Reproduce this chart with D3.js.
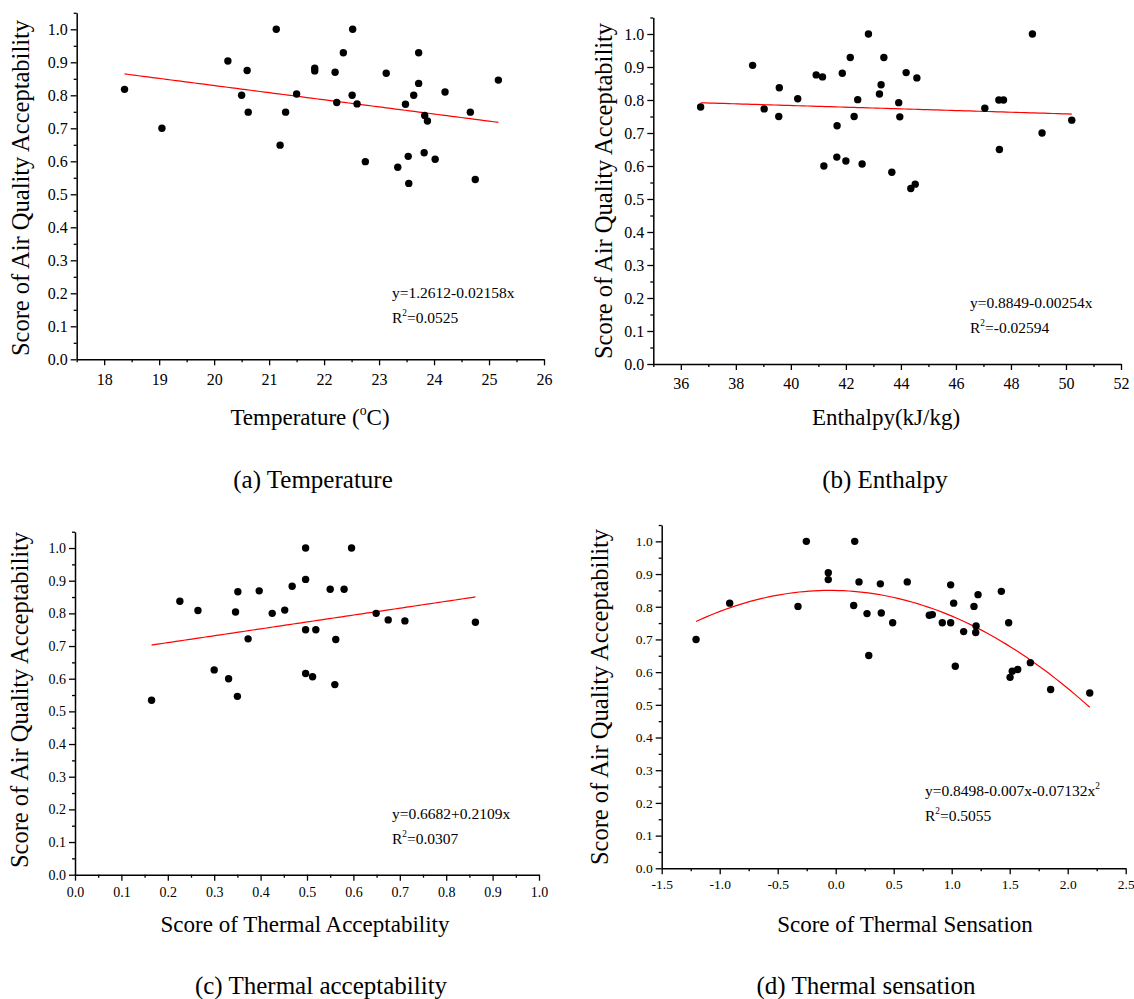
<!DOCTYPE html>
<html><head><meta charset="utf-8">
<script src="https://cdn.jsdelivr.net/npm/d3@7"></script>
<style>
body{margin:0;background:#fff}
svg{display:block}
text{font-family:"Liberation Serif","Times New Roman",serif;fill:#000}
</style>
</head><body>
<svg id="chart" width="1134" height="999"></svg>
<script>
// ---------- data ----------
const tempX = [18.37,19.05,20.25,20.6,21.13,20.5,20.62,21.3,21.2,21.5,22.52,22.35,23.72,21.83,21.83,22.2,23.13,25.17,23.72,24.2,22.51,23.63,22.23,22.6,23.48,23.83,23.88,24.66,22.75,23.34,23.53,23.82,24.02,23.54,24.75];
const tempY = [0.818,0.70,0.904,0.875,1.0,0.80,0.749,0.749,0.649,0.804,1.0,0.929,0.929,0.882,0.874,0.870,0.867,0.846,0.836,0.81,0.80,0.80,0.778,0.774,0.773,0.739,0.722,0.749,0.599,0.582,0.615,0.626,0.606,0.533,0.545];

const enthX = [36.72,38.61,39.03,39.58,39.56,40.25,40.92,41.15,41.2,41.68,41.67,42.0,41.87,42.16,42.3,42.43,42.59,42.82,43.38,44.19,44.58,43.28,43.22,43.92,43.96,43.67,44.36,44.52,47.05,47.56,47.73,47.58,48.78,49.13,50.21];
const enthY = [0.779,0.905,0.773,0.837,0.75,0.804,0.876,0.870,0.60,0.722,0.627,0.615,0.881,0.929,0.75,0.801,0.606,1.0,0.929,0.883,0.867,0.846,0.818,0.792,0.749,0.581,0.532,0.545,0.775,0.80,0.80,0.65,1.0,0.70,0.739];

const taX = [0.165,0.226,0.265,0.300,0.331,0.350,0.351,0.346,0.373,0.397,0.425,0.452,0.468,0.497,0.497,0.497,0.497,0.596,0.550,0.580,0.519,0.562,0.512,0.560,0.649,0.675,0.711,0.863];
const taY = [0.534,0.837,0.809,0.627,0.60,0.546,0.866,0.804,0.722,0.869,0.80,0.81,0.883,1.0,0.904,0.75,0.616,1.0,0.874,0.874,0.75,0.720,0.606,0.582,0.80,0.78,0.777,0.773];

const tsX = [-1.204,-0.914,-0.325,-0.253,-0.064,-0.064,0.164,0.155,0.201,0.27,0.285,0.385,0.617,0.393,0.491,0.807,0.833,0.919,0.991,0.991,1.017,1.031,1.103,1.192,1.227,1.21,1.207,1.428,1.491,1.678,1.522,1.569,1.503,1.853,2.19];
const tsY = [0.70,0.811,0.801,1.0,0.904,0.883,1.0,0.804,0.876,0.779,0.651,0.870,0.876,0.781,0.751,0.774,0.776,0.751,0.751,0.867,0.811,0.618,0.724,0.801,0.837,0.741,0.721,0.847,0.751,0.629,0.603,0.608,0.584,0.547,0.536];

// fit coefficients (as printed on the chart)
const tempFit = [1.2612, -0.02158];
const enthFit = [0.8849, -0.00254];
const taFit = [0.6682, 0.2109];
const tsFit = [0.8498, -0.007, -0.07132];

// tick labels
const yTicks = [0.0,0.1,0.2,0.3,0.4,0.5,0.6,0.7,0.8,0.9,1.0];
const tempTicks = [18,19,20,21,22,23,24,25,26];
const enthTicks = [36,38,40,42,44,46,48,50,52];
const taTicks = [0.0,0.1,0.2,0.3,0.4,0.5,0.6,0.7,0.8,0.9,1.0];
const tsTicks = [-1.5,-1.0,-0.5,0.0,0.5,1.0,1.5,2.0,2.5];

const yLabel = "Score of Air Quality Acceptability";

// ---------- drawing ----------
const svg = d3.select("#chart");
const FONT = "'Liberation Serif', 'Times New Roman', serif";

function addSupText(g, x, y, parts, size, anchor){
  const t = g.append("text").attr("x", x).attr("y", y).attr("font-size", size)
    .attr("text-anchor", anchor || "start").style("font-family", FONT);
  const shift = size * 0.42;
  let pending = 0;
  parts.forEach(p => {
    if (p.sup) {
      t.append("tspan").attr("dy", -shift).attr("font-size", size * 0.6).text(p.sup);
      pending = shift;
    } else {
      t.append("tspan").attr("dy", pending).text(p.t);
      pending = 0;
    }
  });
  return t;
}

const fmt1 = v => v.toFixed(1);
const fmt0 = v => String(v);

function drawPanel(c){
  const g = svg.append("g");
  const x = d3.scaleLinear().domain(c.xDomain).range([c.left, c.right]);
  const y = d3.scaleLinear().domain([0, 1.05]).range([c.bottom, c.top]);

  // minor ticks
  const gxm = g.append("g").attr("transform", `translate(0,${c.bottom})`)
    .call(d3.axisBottom(x).tickValues(c.xMinor).tickSize(3).tickFormat("").tickSizeOuter(0));
  gxm.select(".domain").remove();
  const gym = g.append("g").attr("transform", `translate(${c.left},0)`)
    .call(d3.axisLeft(y).tickValues(d3.range(0.05, 1.06, 0.1)).tickSize(3).tickFormat("").tickSizeOuter(0));
  gym.select(".domain").remove();

  // major axes
  const gx = g.append("g").attr("transform", `translate(0,${c.bottom})`)
    .call(d3.axisBottom(x).tickValues(c.xTicks).tickSize(6).tickSizeOuter(0).tickPadding(c.xPad)
      .tickFormat(c.xFormat));
  const gy = g.append("g").attr("transform", `translate(${c.left},0)`)
    .call(d3.axisLeft(y).tickValues(yTicks).tickSize(6).tickSizeOuter(0).tickPadding(3)
      .tickFormat(fmt1));
  [gx, gy, gxm, gym].forEach(a => {
    a.attr("font-family", null).attr("font-size", null);
    a.selectAll("line").attr("stroke", "#000").attr("stroke-width", 1.3);
    a.selectAll(".domain").attr("stroke", "#000").attr("stroke-width", 1.5);
    a.selectAll("text").style("font-family", FONT)
      .attr("font-size", c.tickSize).attr("fill", "#000");
  });

  // fit line
  const xs = c.xs, ys = c.ys;
  const xmin = d3.min(xs), xmax = d3.max(xs);
  const f = v => c.fit.reduce((s, k, i) => s + k * Math.pow(v, i), 0);
  const samples = d3.range(0, 81).map(i => xmin + (xmax - xmin) * i / 80);
  g.append("path").datum(samples)
    .attr("fill", "none").attr("stroke", "#ff0000").attr("stroke-width", 1.2)
    .attr("d", d3.line().x(v => x(v)).y(v => y(f(v))));

  // points
  g.selectAll("circle.pt").data(xs.map((v, i) => [v, ys[i]])).join("circle")
    .attr("class", "pt").attr("cx", d => x(d[0])).attr("cy", d => y(d[1]))
    .attr("r", 3.7).attr("fill", "#000");

  // y label
  g.append("text").attr("transform", `translate(${c.yLabX},${c.yLabY}) rotate(-90)`)
    .attr("text-anchor", "middle").attr("font-size", 24.5).style("font-family", FONT).text(yLabel);

  // x title
  addSupText(g, c.xTitleX, c.xTitleY, c.xTitle, 23, "middle");

  // equation
  addSupText(g, c.eqX, c.eqY, c.eq, 15.5, "start");
  addSupText(g, c.eqX, c.eqY + 24.5, c.r2, 15.5, "start");

  // caption
  g.append("text").attr("x", c.capX).attr("y", c.capY).attr("text-anchor", "middle")
    .attr("font-size", 25).style("font-family", FONT).text(c.caption);
}

drawPanel({
  xDomain: [17.5, 26], left: 76.7, right: 544, bottom: 359.3, top: 12.8,
  xTicks: tempTicks, xMinor: d3.range(17.5, 26, 1), xFormat: fmt0, xPad: 8, tickSize: 16,
  xs: tempX, ys: tempY, fit: tempFit,
  yLabX: 29, yLabY: 188,
  xTitle: [{t: "Temperature ("}, {sup: "o"}, {t: "C)"}], xTitleX: 310, xTitleY: 425,
  eq: [{t: "y=1.2612-0.02158x"}], r2: [{t: "R"}, {sup: "2"}, {t: "=0.0525"}], eqX: 392, eqY: 298,
  caption: "(a) Temperature", capX: 313, capY: 488
});
drawPanel({
  xDomain: [35, 52], left: 653.3, right: 1121, bottom: 364, top: 17.5,
  xTicks: enthTicks, xMinor: d3.range(35, 52, 2), xFormat: fmt0, xPad: 8, tickSize: 16,
  xs: enthX, ys: enthY, fit: enthFit,
  yLabX: 612, yLabY: 191,
  xTitle: [{t: "Enthalpy(kJ/kg)"}], xTitleX: 886, xTitleY: 425,
  eq: [{t: "y=0.8849-0.00254x"}], r2: [{t: "R"}, {sup: "2"}, {t: "=-0.02594"}], eqX: 970, eqY: 308,
  caption: "(b) Enthalpy", capX: 885, capY: 488
});
drawPanel({
  xDomain: [0, 1], left: 75, right: 539, bottom: 874.7, top: 531.7,
  xTicks: taTicks, xMinor: d3.range(0.05, 1, 0.1), xFormat: fmt1, xPad: 6, tickSize: 14,
  xs: taX, ys: taY, fit: taFit,
  yLabX: 28, yLabY: 700,
  xTitle: [{t: "Score of Thermal Acceptability"}], xTitleX: 305, xTitleY: 932,
  eq: [{t: "y=0.6682+0.2109x"}], r2: [{t: "R"}, {sup: "2"}, {t: "=0.0307"}], eqX: 392, eqY: 819,
  caption: "(c) Thermal acceptability", capX: 321, capY: 994
});
drawPanel({
  xDomain: [-1.5, 2.5], left: 661.7, right: 1125.7, bottom: 868.3, top: 525,
  xTicks: tsTicks, xMinor: d3.range(-1.25, 2.5, 0.5), xFormat: fmt1, xPad: 5, tickSize: 13.5,
  xs: tsX, ys: tsY, fit: tsFit,
  yLabX: 608, yLabY: 697,
  xTitle: [{t: "Score of Thermal Sensation"}], xTitleX: 905, xTitleY: 932,
  eq: [{t: "y=0.8498-0.007x-0.07132x"}, {sup: "2"}], r2: [{t: "R"}, {sup: "2"}, {t: "=0.5055"}], eqX: 925, eqY: 796,
  caption: "(d) Thermal sensation", capX: 866, capY: 994
});
</script>
</body></html>
